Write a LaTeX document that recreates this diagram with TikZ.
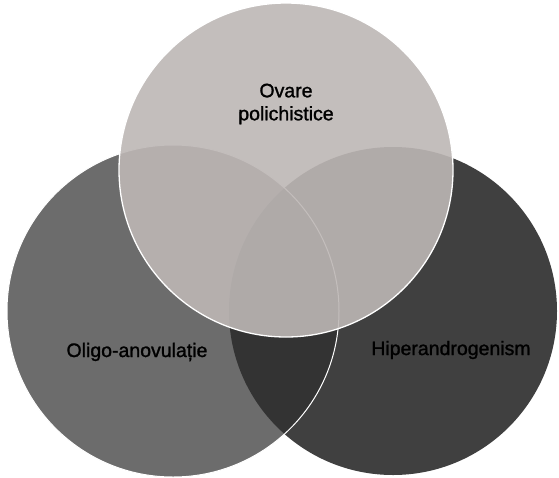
\documentclass[tikz,border=0pt]{standalone}
\usepackage{fontspec}
\setmainfont{Liberation Sans}
\newfontfamily\lblfont{Liberation Sans}[FakeBold=1.3]
\definecolor{topgray}{HTML}{BDB7B5}
\definecolor{leftgray}{HTML}{6C6C6C}
\definecolor{rightgray}{HTML}{404040}
\definecolor{bothgray}{HTML}{333333}
\tikzset{
  lbl/.style={font=\lblfont\fontsize{19.5}{23}\selectfont, text=black, align=center, inner sep=0pt},
  rim/.style={draw=white, line width=1.3pt}
}
\begin{document}
\begin{tikzpicture}[x=1pt,y=-1pt]
\fill[white] (0,0) rectangle (559,477);
\useasboundingbox (0,0) rectangle (559,477);
\coordinate (cT) at (286,170);
\coordinate (cL) at (173,311);
\coordinate (cR) at (393,311);
% right circle
\fill[rightgray] (cR) circle (164);
% left circle
\fill[leftgray] (cL) circle (166);
% overlap of left and right
\begin{scope}
  \clip (cR) circle (164);
  \fill[bothgray] (cL) circle (166);
\end{scope}
\draw[rim, line width=1pt] (cL) circle (166);
% top circle
\fill[topgray, opacity=0.9] (cT) circle (167);
\draw[rim] (cT) circle (167);
% labels
\node[lbl] (ovare) at (286,104) {Ovare\\polichistice};
\node[lbl] (oligo) at (137,352) {Oligo-anovulație};
\node[lbl] (hiper) at (451,350) {Hiperandrogenism};
\end{tikzpicture}
\end{document}
